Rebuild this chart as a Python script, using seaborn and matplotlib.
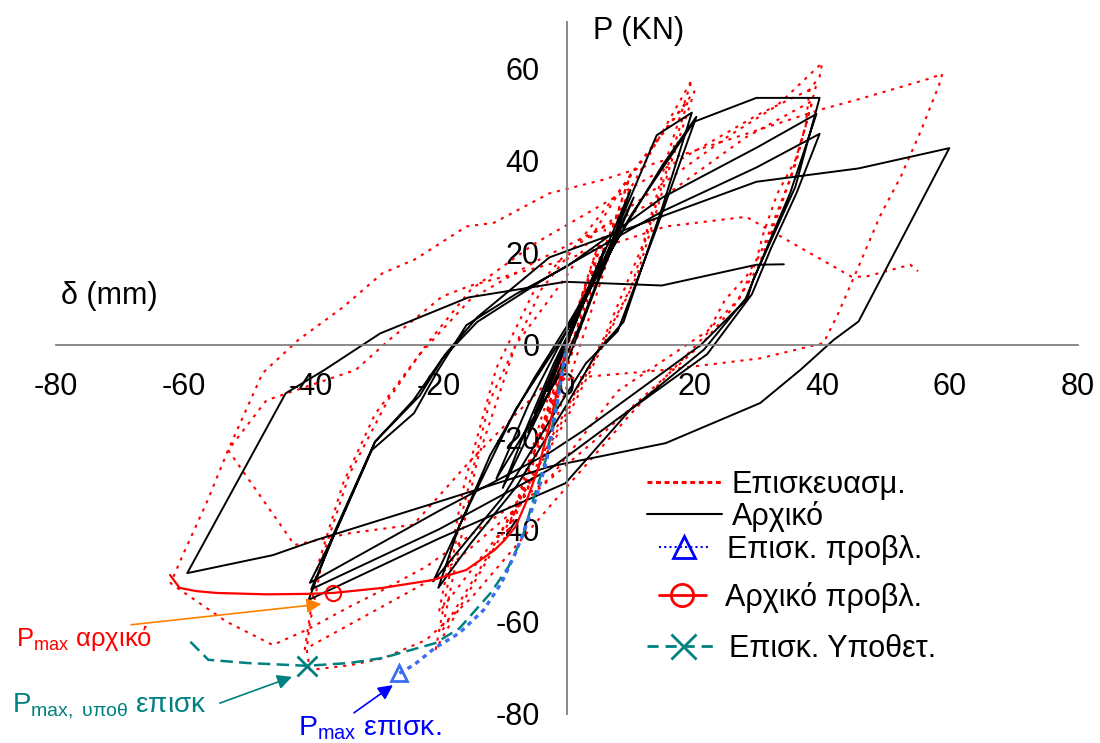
import matplotlib
matplotlib.use('Agg')
import matplotlib.pyplot as plt
import seaborn as sns
from matplotlib.lines import Line2D

sns.set_style('white')
plt.rcParams['font.family'] = ['Liberation Sans', 'DejaVu Sans']
plt.rcParams['text.color'] = 'black'
plt.rcParams['axes.labelcolor'] = 'black'
plt.rcParams['mathtext.fontset'] = 'custom'
plt.rcParams['mathtext.rm'] = 'Liberation Sans'
plt.rcParams['mathtext.it'] = 'Liberation Sans:italic'
plt.rcParams['mathtext.bf'] = 'Liberation Sans:bold'

# ---------------- data (δ in mm, P in kN) ----------------
# Επισκευασμ. (repaired specimen, red dotted)
rep_x = [0, 3, -3, 5, -5, 0, 6, -6, 10, 4, -2, -10, -4, 2, 10, 4, -3, -9, -4, 2, 10,
         19.6, 16, 12, 6, -5, -12, -19.5, -17, -14, -8, 0, 10, 20, 16, 11, 4, -8, -20.5,
         -17, -12, -4, 8, 19, 15, 10, 0, -10, -20, -16, -11, -5, 0, 10, 25, 33,
         40, 39.6, 38, 37.4, 35.8, 33, 30.8, 29.7, 28.1, 24.8, 22, 10, -2.7, -15, -22,
         -28.8, -34, -40.2, -40.7, -40.2, -38, -34, -28, -22, -15, -5, 5, 20, 30, 39,
         36, 33, 30, 26, 21, 5, -5, -20, -41, -39, -35, -30, -23, -15, -5, 15, 28, 38.5,
         35, 31, 27, 22, 8, -2.7, -22, -28.7, -34, -40.7, -46, -53.3, -62, -60.2, -56.3,
         -53, -47.6, -42, -35, -28.9, -23.7, -15.7, -11.4, -2.7, 5.6, 20.4, 39.6, 45.7,
         56.6, 58.8, 58.3, 55.5, 52.3, 49, 45.7, 42.4, 40.2, 30.3, 15.5, -2.7, -15, -24,
         -33.8, -42.6, -53, -47, -33, -27.7, -19.5, -15.2, -1.9, 15.5, 28.1, 44.6, 46.8,
         53.8, 55]
rep_y = [0, 13, -12, 22, -23, -4, 25, -27, 37, 12, -14, -43, -20, 3, 34, 8, -22, -40, -16, 9, 34,
         57.5, 42, 22, 2, -27, -45, -62, -45, -25, 0, 15, 37, 55, 38, 15, -4, -36, -66,
         -40, -12, 12, 33, 53, 35, 12, -16, -40, -58, -30, -5, 12, 20, 30, 45, 52,
         61.2, 58.2, 55.3, 47.4, 40.1, 32.9, 24.2, 18.4, 14.8, 9.8, 2.5, -15, -35.1, -55, -64,
         -68, -69.5, -70.5, -66, -60.4, -45, -28, -12, 0, 12, 22, 30, 42, 50, 56,
         40, 28, 17, 8, 0, -20, -32, -50, -66, -48, -30, -15, -2, 10, 18, 32, 45, 53,
         36, 22, 10, 3, -10, -29, -48.1, -53.1, -56.8, -61.8, -65.1, -60, -51.7, -45.9, -34,
         -22.8, -6.1, 1.1, 8.2, 15.5, 18.6, 25.7, 26.5, 32.9, 35.8, 42.3, 51, 53.3,
         57.7, 58.8, 56.4, 46.6, 36.5, 27.8, 17, 6.5, 0.4, -2.9, -5.4, -7.6, -25, -39,
         -40.8, -43.4, -22.8, -12, -5.4, 1.2, 10.5, 12.8, 17.8, 25.7, 27.8, 14.8, 14.8,
         17.4, 16]

# Αρχικό (original specimen, black solid)
orig_x = [0, 2, -2, 3, -3, 5, -5, 6, -6, 10, 6, 2, -3, -10, -6, -2, 3, 10.5, 5, 0, -11,
          -6, 0, 6, 14.1, 19.6, 15, 8.9, 5, 0, -8, -15, -20.1, -17, -12, -5, 0, 8, 15, 20.3,
          14, 8, 3, -2, -10, -20.9, -15, -8, 0, 10, 19.9, 29.7, 39.6, 35.8, 32.5, 29.2, 28.3,
          21, 2.8, -2.7, -20, -40.2, -36, -30.5, -23.9, -20.1, -15.7, -8, 0, 15, 30, 39.1,
          35, 31, 28, 21.5, 10, -0.2, -20, -40.4, -36.5, -30, -24, -19.5, -14, -2.7, 15,
          29.7, 39.6, 36, 32, 29, 22, 8, -2.7, -20, -40, -36, -30, -23, -19, -14, -2.7,
          29.7, 45.7, 59.9, 45.7, 41.8, 36.6, 30.3, 15.5, -2.7, -20, -39.2, -46, -59.4,
          -44, -37.9, -29.2, -15.4, -0.2, 14.9, 29.7, 34]
orig_y = [0, 7, -6, 11, -10, 17, -15, 21, -19, 33.6, 18, 4, -11, -31, -17, -4, 10, 32, 14, -4, -29,
          -13, 3, 19, 45.5, 50.4, 30, 5, -1, -13, -31, -43, -52.7, -40, -24, -7, 4, 23, 39, 49.5,
          25, 3, -4, -15, -33, -51.3, -34, -14, 3, 28, 48.4, 53.6, 53.6, 34.3, 24.2, 14.1, 10.1,
          0, -18.4, -23.4, -36, -51.6, -40, -22.8, -14.8, -5.4, 4.3, 11, 17, 32, 43, 50.1,
          33, 20, 10, -1, -14, -30, -42, -55.3, -41, -21, -12, -3, 5, 15, 29,
          38.5, 45.8, 33, 21, 11, -2, -16, -27, -40, -53, -40, -21, -11, -2, 6, 19,
          35.4, 38.3, 42.7, 5.1, 1.1, -5.4, -12.6, -21.3, -26.4, -34, -42.3, -45.6, -49.5,
          -10.5, -5.4, 2.5, 10.3, 13.7, 12.9, 17.4, 17.5]

# Επισκ. προβλ. (repaired, predicted, blue)
rpred_x = [-26.2, -23.9, -20.6, -16.8, -13, -10.2, -8, -6.4, -4.7, -3.1, -1.5, 0]
rpred_y = [-71.2, -69.4, -65.7, -62.5, -57.5, -51.6, -45.1, -39.4, -32.9, -24.9, -13, 0]

# Αρχικό προβλ. (original, predicted, red solid)
opred_x = [-62.1, -60.6, -58, -54.8, -47, -40.7, -36.6, -28.8, -21, -15.7, -11.3, -9.7,
           -8, -6.4, -4.5, -2.6, -1.1, 0]
opred_y = [-49.9, -52.7, -53.4, -53.8, -54.1, -54, -53.8, -52.7, -51, -48.8, -44.5, -42.3,
           -39.4, -34.3, -27, -17, -7.6, 0]

# Επισκ. Υποθετ. (repaired, hypothetical, teal dashed)
hyp_x = [-58.9, -56.1, -50, -40.7, -34, -28.8, -20.6, -16.8, -11.9, -9.1, -6.9, -5, -3.3, -1.6, 0]
hyp_y = [-64.4, -68.3, -69, -69.6, -69, -67.9, -64.7, -61.5, -53.8, -48.1, -41.6, -32.5, -25, -13, 0]

labels = ['Επισκευασμ.', 'Αρχικό', 'Επισκ. προβλ.', 'Αρχικό προβλ.', 'Επισκ. Υποθετ.']
x_ticks = [-80, -60, -40, -20, 0, 20, 40, 60, 80]
y_ticks = [-80, -60, -40, -20, 0, 20, 40, 60]

RED = '#FF0000'
TEAL = '#008080'
BLUE_LINE = '#3A6EF0'

# ---------------- figure ----------------
fig = plt.figure(figsize=(11, 7.43), dpi=100)
ax = fig.add_axes([0.0506, 0.0394, 0.9291, 0.9306])

sns.lineplot(x=rep_x, y=rep_y, sort=False, estimator=None, color=RED, lw=1.5,
             ls=(0, (1.5, 2.8)), ax=ax)
sns.lineplot(x=orig_x, y=orig_y, sort=False, estimator=None, color='black', lw=1.4, ax=ax)
sns.lineplot(x=opred_x, y=opred_y, sort=False, estimator=None, color=RED, lw=1.6,
             marker='o', markevery=[6], ms=11, mfc='none', mec=RED, mew=1.5, ax=ax)
sns.lineplot(x=hyp_x, y=hyp_y, sort=False, estimator=None, color=TEAL, lw=1.8,
             ls=(0, (5, 2.5)), marker='x', markevery=[3], ms=14, mec=TEAL, mew=2, ax=ax)
sns.lineplot(x=rpred_x, y=rpred_y, sort=False, estimator=None, color=BLUE_LINE, lw=2.4,
             ls=(0, (1.4, 1.4)), marker='^', markevery=[0], ms=12, mfc='none',
             mec=BLUE_LINE, mew=2, ax=ax)

ax.set_xlim(-80, 80)
ax.set_ylim(-80, 70)
ax.set_xticks(x_ticks)
ax.set_yticks(y_ticks)
ax.set_xticklabels([str(v) for v in x_ticks])
ax.set_yticklabels([str(v) for v in y_ticks])
ax.set_xlabel('')
ax.set_ylabel('')
for s in ['top', 'right']:
    ax.spines[s].set_visible(False)
ax.spines['left'].set_position(('data', 0))
ax.spines['bottom'].set_position(('data', 0))
for s in ['left', 'bottom']:
    ax.spines[s].set_color('#808080')
    ax.spines[s].set_linewidth(1.3)
ax.tick_params(direction='out', length=7, width=1.2, color='#404040',
               labelsize=22, pad=12.5, labelcolor='black')
ax.grid(False)
ax.set_facecolor('white')

# axis titles
ax.text(-79.2, 10.6, 'δ (mm)', fontsize=22, va='center', ha='left', color='black')
ax.text(4.2, 68.1, 'P (KN)', fontsize=22, va='center', ha='left', color='black')

# annotations
ax.annotate('', xy=(-38.4, -56.2), xytext=(-68.2, -60.7), annotation_clip=False,
            arrowprops=dict(arrowstyle='-|>', color='#FF8000', lw=1.2,
                            mutation_scale=22, shrinkA=0, shrinkB=0))
ax.text(-86.2, -63.6, r'P$_{\mathregular{max}}$ αρχικό', color=RED, fontsize=18.5,
        va='center', ha='left')

ax.annotate('', xy=(-43.0, -72.0), xytext=(-54.3, -77.7), annotation_clip=False,
            arrowprops=dict(arrowstyle='-|>', color=TEAL, lw=1.2,
                            mutation_scale=22, shrinkA=0, shrinkB=0))
ax.text(-86.9, -78.3, r'P$_{\mathregular{max,\ υποθ}}$ επισκ', color=TEAL, fontsize=20,
        va='center', ha='left')

ax.annotate('', xy=(-27.2, -73.8), xytext=(-33.3, -79.8), annotation_clip=False,
            arrowprops=dict(arrowstyle='-|>', color='#0000FF', lw=1.2,
                            mutation_scale=22, shrinkA=0, shrinkB=0))
ax.text(-42.1, -83.1, r'P$_{\mathregular{max}}$ επισκ.', color='#0000FF', fontsize=20.5,
        va='center', ha='left')

# legend (one entry per legend to reproduce the uneven spacing)
handles = [
    Line2D([], [], color=RED, lw=2.2, ls=(0, (1.6, 1.2))),
    Line2D([], [], color='black', lw=1.5),
    Line2D([], [], color='#0000FF', lw=1.5, ls=(0, (1, 1.5)), marker='^', ms=16,
           mfc='none', mec='#0000FF', mew=2),
    Line2D([], [], color=RED, lw=2, marker='o', ms=16, mfc='none', mec=RED, mew=2),
    Line2D([], [], color=TEAL, lw=2, ls=(0, (4, 2.5)), marker='x', ms=18, mec=TEAL, mew=2),
]
leg_pos = [(0.5886, 0.3472), (0.5886, 0.3046), (0.5989, 0.2598), (0.5989, 0.1956), (0.5886, 0.1265)]
leg_hl = [2.45, 2.45, 1.67, 1.54, 2.32]
leg_pad = [0.3, 0.3, 0.57, 0.63, 0.35]
for h, lab, pos, hl, hp in zip(handles, labels, leg_pos, leg_hl, leg_pad):
    leg = fig.legend([h], [lab], loc='center left', bbox_to_anchor=pos,
                     bbox_transform=fig.transFigure, frameon=False, borderpad=0,
                     borderaxespad=0, handlelength=hl, handletextpad=hp, fontsize=22,
                     numpoints=1)
    for t in leg.get_texts():
        t.set_color('black')

fig.savefig('out.png', dpi=100, facecolor='white')
